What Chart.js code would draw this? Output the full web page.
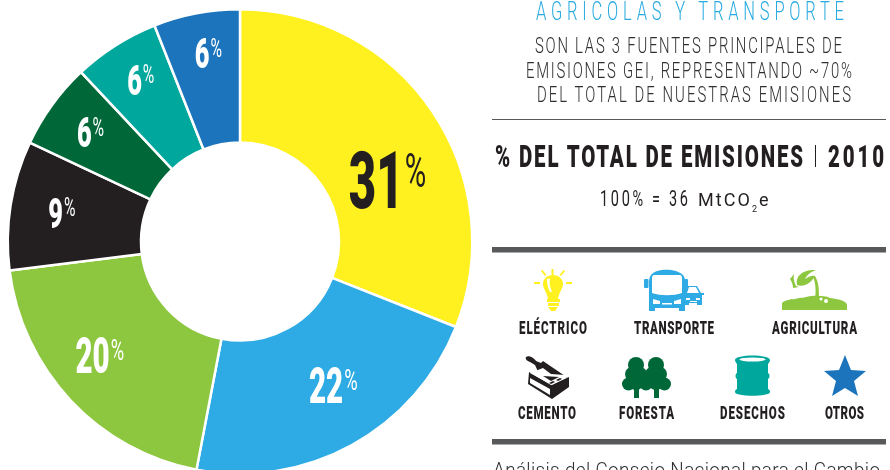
<!DOCTYPE html>
<html>
<head>
<meta charset="utf-8">
<script src="https://cdn.jsdelivr.net/npm/chart.js@4"></script>
<style>
    html, body { margin: 0; padding: 0; width: 890px; height: 470px; overflow: hidden; background: #fff; }
    #chartBox { position: absolute; left: 0; top: 0; width: 480px; height: 483px; }
    #panel { position: absolute; left: 0; top: 0; }
</style>
</head>
<body>
<div id="chartBox"><canvas id="emisiones"></canvas></div>

<svg id="panel" width="890" height="470" xmlns="http://www.w3.org/2000/svg">
    <rect x="492" y="119" width="394" height="1" fill="#58595b"/>
    <rect x="815" y="145" width="1" height="22" fill="#231f20"/>
    <rect x="492" y="247" width="394" height="5.5" fill="#58595b"/>
    <rect x="492" y="439" width="394" height="5.5" fill="#58595b"/>

    <!-- bombilla -->
    <g fill="#fff01f">
        <path d="M553 275c-6 0-10 4-10 9 0 5 4 8 5 15h10c1-7 5-10 5-15 0-5-4-9-10-9z"/>
        <rect x="547" y="299" width="13" height="3"/><rect x="548" y="303" width="11" height="3"/>
        <path d="M548 307h10l-3 4h-4z"/>
        <rect x="551.500" y="269" width="2" height="6"/>
        <rect x="534" y="282" width="6" height="2"/><rect x="566" y="282" width="6" height="2"/>
        <path d="M541 271l1.500-1 4 5-1.500 1zM565 271l-1.500-1-4 5 1.500 1z"/>
    </g>
    <path d="M547 279c0 5 1 9 3 13l2-.5c-2-4-3-8-2-13z" fill="#fff"/>
    <!-- bus y auto -->
    <g fill="#2eaae4">
        <path d="M651 275c5-7 25-7 32 0 2 3 2 5 2 8v28h-6v-3h-24v3h-6v-28c0-3 0-5 2-8z"/>
        <rect x="644" y="279" width="4.500" height="9" rx="1"/><rect x="684" y="279" width="4" height="9" rx="1"/>
        <path d="M684 296l3-10h10l4 7h3v2h-2v10h-5v-2h-8v2h-5z"/>
    </g>
    <path d="M654 275h26c1 0 2 1 2 3v15c-9 3-21 3-30 0v-15c0-2 1-3 2-3z" fill="#fff"/>
    <path d="M689 287h7l3 6h-12z" fill="#fff"/>
    <rect x="685" y="281" width="2" height="15" fill="#2eaae4"/>
    <g fill="#fff"><path d="M653 299l7 2v3h-7zM681 299l-7 2v3h7z"/><rect x="662" y="303" width="10" height="1.500"/><rect x="686" y="298" width="4" height="2"/><rect x="696" y="298" width="4" height="2"/><rect x="690" y="301" width="7" height="1"/></g>
    <!-- planta -->
    <g fill="#8dc63f">
        <path d="M782 310v-7c3-3 7-3 10-4 3 1 7-2 10-1 5-1 10-3 15-2 5 0 9 0 13 2 5 1 9 1 13 3 2 1 4 2 4 4v5z"/>
        <path d="M815 299c1-7 1-16-2-22l2-1c4 6 4 15 4 23z"/>
        <path d="M797 285c-2-9 6-16 19-15-3 1-9 4-11 9 4-3 8-4 10-3-3 6-11 12-18 9z"/>
        <path d="M790 279l4-5c-1 4 0 8 2 12l3 1-6 1c0-3-1-6-3-9z"/>
    </g>
    <circle cx="821" cy="299" r="1.500" fill="#fff"/><circle cx="826" cy="301" r="2" fill="#fff"/>
    <!-- paleta y ladrillo -->
    <g fill="#231f20">
        <path d="M526 357c3-2 8 1 10 4l5 2 2-2 25 17-28-2-5-11-5-3c-3-1-5-3-4-5z"/>
        <path d="M529 372l22 13 18-8v10l-17 12-24-15z"/>
    </g>
    <path d="M530 373l22 12 16-8-3-2-14-1-8-6z" fill="#fff"/>
    <path d="M530 378l20 11v6l-20-12z" fill="#fff"/>
    <path d="M543 376l16 1-8 4z" fill="#231f20"/>
    <g fill="#231f20"><path d="M549 383l4-2 2 1-4 2zM556 380l4-2 2 1-4 2z"/></g>
    <!-- arboles -->
    <g fill="#006838">
        <circle cx="636" cy="365" r="8"/><circle cx="656" cy="365" r="8"/>
        <circle cx="632" cy="374" r="7"/><circle cx="640" cy="374" r="7"/>
        <circle cx="652" cy="374" r="7"/><circle cx="660" cy="374" r="7"/>
        <circle cx="628.500" cy="384" r="6.500"/><circle cx="636" cy="382" r="8"/><circle cx="646" cy="384" r="6.500"/>
        <circle cx="656" cy="382" r="8"/><circle cx="664.500" cy="384" r="6.500"/>
        <rect x="634" y="385" width="5" height="13"/><rect x="654" y="385" width="5" height="13"/>
    </g>
    <!-- barril -->
    <path d="M735 360c0-6 35-6 35 0 0 1-1 3-2 4v9c2 1 2 5 0 6v10c2 1 2 2 2 3 0 5-35 5-35 0 0-1 0-2 2-3v-10c-2-1-2-5 0-6v-9c-1-1-2-3-2-4z" fill="#00a79d"/>
    <ellipse cx="752.500" cy="359.500" rx="13" ry="2" fill="#fff"/>
    <!-- estrella -->
    <path d="M845 355l6 15 15 1-12 10 4 15-13-8-13 8 4-15-12-10 15-1z" fill="#1c75bc"/>
</svg>

<script>
const categories = ['Eléctrico', 'Transporte', 'Agricultura', 'Cemento', 'Foresta', 'Desechos', 'Otros'];
const shares = [31, 22, 20, 9, 6, 6, 6];
const sliceColors = ['#fff01f', '#2eaae4', '#8dc63f', '#231f20', '#006838', '#00a79d', '#1c75bc'];

const addLine = (str, x, y, w, size, weight, color, squeeze) => {
    const t = document.createElementNS('http://www.w3.org/2000/svg', 'text');
    t.textContent = str;
    t.setAttribute('transform', 'translate(' + x + ',' + y + ') scale(' + squeeze + ',1)');
    t.setAttribute('textLength', w / squeeze);
    t.setAttribute('lengthAdjust', 'spacing');
    t.setAttribute('font-family', 'Roboto, sans-serif');
    t.setAttribute('font-size', size);
    t.setAttribute('font-weight', weight);
    t.setAttribute('fill', color);
    document.getElementById('panel').appendChild(t);
}

addLine('AGRICOLAS Y TRANSPORTE', 536, 20, 308, 25, 300, '#29abe2', 0.66);
addLine('SON LAS 3 FUENTES PRINCIPALES DE', 535, 53, 307, 22.5, 300, '#2f2f31', 0.66);
addLine('EMISIONES GEI, REPRESENTANDO ~70%', 526, 78, 326, 22.5, 300, '#2f2f31', 0.66);
addLine('DEL TOTAL DE NUESTRAS EMISIONES', 537, 102, 314, 22.5, 300, '#2f2f31', 0.66);
addLine('% DEL TOTAL DE EMISIONES', 495, 167, 308, 31, 900, '#231f20', 0.66);
addLine('2010', 828, 167, 56, 31, 900, '#231f20', 0.66);
addLine('100% = 36', 600, 206, 88, 22, 400, '#231f20', 0.66);
addLine('MtCO', 698, 206, 52, 18, 400, '#231f20', 1);
addLine('2', 752, 212, 6, 9, 400, '#231f20', 1);
addLine('e', 759, 206, 9, 18, 400, '#231f20', 1);
addLine('ELÉCTRICO', 519, 334, 68, 17.5, 900, '#231f20', 0.66);
addLine('TRANSPORTE', 634, 334, 80, 17.5, 900, '#231f20', 0.66);
addLine('AGRICULTURA', 772, 334, 85, 17.5, 900, '#231f20', 0.66);
addLine('CEMENTO', 518, 419, 58, 17.5, 900, '#231f20', 0.66);
addLine('FORESTA', 619, 419, 55, 17.5, 900, '#231f20', 0.66);
addLine('DESECHOS', 720, 419, 65, 17.5, 900, '#231f20', 0.66);
addLine('OTROS', 825, 419, 39, 17.5, 900, '#231f20', 0.66);
addLine('Análisis del Consejo Nacional para el Cambio', 493, 477, 387, 21, 300, '#2f2f31', 0.9);

// nudge from the middle of each slice, digit height and ink colour
const labelSpots = [
    { dx: 10, dy: 32, h: 56, ink: '#231f20' },
    { dx: 13, dy: -1, h: 35, ink: '#fff' },
    { dx: -20, dy: 1, h: 35, ink: '#fff' },
    { dx: -15, dy: -3, h: 30, ink: '#fff' },
    { dx: -16, dy: -12, h: 30, ink: '#fff' },
    { dx: -11, dy: -22, h: 30, ink: '#fff' },
    { dx: -1, dy: -26, h: 30, ink: '#fff' }
];

const sliceLabels = {
    id: 'sliceLabels',
    afterDatasetsDraw(chart) {
        const ctx = chart.ctx;
        chart.getDatasetMeta(0).data.forEach((arc, i) => {
            const spot = labelSpots[i];
            const mid = arc.getCenterPoint();
            const size = spot.h / 0.71;
            const squeeze = 0.6;
            const pctSqueeze = 0.62;
            const num = String(shares[i]);
            const numFont = '900 ' + size + 'px Roboto';
            const pctFont = '400 ' + size * 0.6 + 'px Roboto';
            ctx.save();
            ctx.fillStyle = spot.ink;
            ctx.textBaseline = 'alphabetic';
            ctx.font = numFont;
            const numW = ctx.measureText(num).width * squeeze;
            ctx.font = pctFont;
            const pctW = ctx.measureText('%').width * pctSqueeze;
            const left = mid.x + spot.dx - (numW + pctW) / 2;
            const base = mid.y + spot.dy + spot.h / 2;
            ctx.save();
            ctx.translate(left, base);
            ctx.scale(squeeze, 1);
            ctx.font = numFont;
            ctx.fillText(num, 0, 0);
            ctx.restore();
            ctx.translate(left + numW + 1, base - spot.h * 0.375);
            ctx.scale(pctSqueeze, 1);
            ctx.font = pctFont;
            ctx.fillText('%', 0, 0);
            ctx.restore();
        });
    }
};

new Chart('emisiones', {
    type: 'doughnut',
    data: {
        labels: categories,
        datasets: [{
            data: shares,
            backgroundColor: sliceColors,
            borderColor: '#fff',
            borderWidth: 2.5,
            hoverOffset: 0
        }]
    },
    options: {
        responsive: true,
        maintainAspectRatio: false,
        animation: false,
        cutout: 99,
        layout: { padding: { left: 6.500, right: 6.500, top: 8, bottom: 8 } },
        plugins: {
            legend: { display: false },
            tooltip: { enabled: false }
        }
    },
    plugins: [sliceLabels]
});
</script>
</body>
</html>
